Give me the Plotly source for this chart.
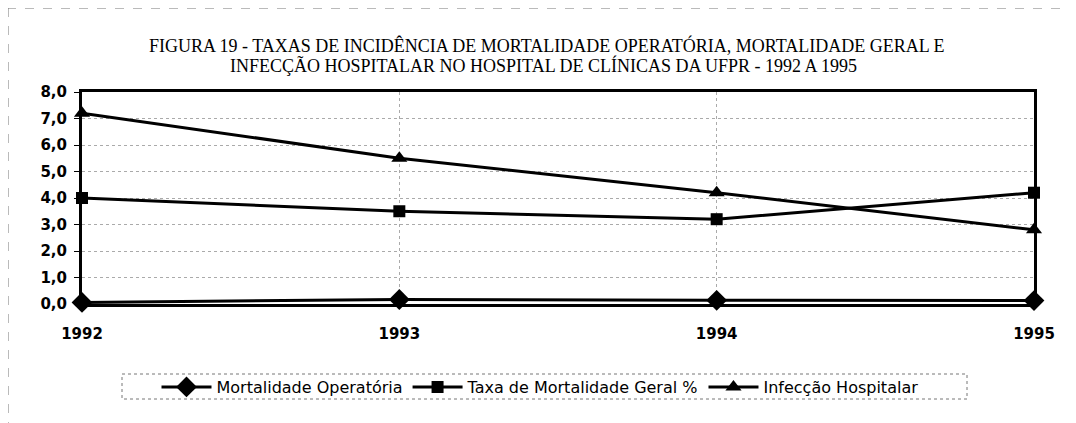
import plotly.graph_objects as go

years = [1992, 1993, 1994, 1995]
mort_operatoria = [0.06, 0.17, 0.14, 0.13]
mort_geral = [4.0, 3.5, 3.2, 4.2]
infeccao = [7.2, 5.5, 4.2, 2.8]
y_ticks = [0, 1, 2, 3, 4, 5, 6, 7, 8]
title_lines = [
    "FIGURA 19 - TAXAS DE INCIDÊNCIA DE MORTALIDADE OPERATÓRIA, MORTALIDADE GERAL E",
    "INFECÇÃO HOSPITALAR NO HOSPITAL DE CLÍNICAS DA UFPR - 1992 A 1995",
]

series = [
    ("Mortalidade Operatória", mort_operatoria, "diamond", 16),
    ("Taxa de Mortalidade Geral %", mort_geral, "square", 12),
    ("Infecção Hospitalar", infeccao, "triangle-up", 14),
]

fig = go.Figure()
for name, vals, sym, size in series:
    fig.add_trace(go.Scatter(
        x=years, y=vals, name=name, mode="lines+markers",
        line=dict(color="black", width=3),
        marker=dict(symbol=sym, size=size, color="black"),
        cliponaxis=False,
    ))

# page has an 8px body margin; figure coordinates = page coordinates - 8
OFF = 8
W, H = 1076 - OFF, 423 - OFF
L, R, T, B = 82 - OFF, 1076 - 1034, 92 - OFF, 423 - 304
pw, ph = W - L - R, H - T - B

def px_x(p):
    return (p - OFF - L) / pw

def px_y(p):
    return (H - B - (p - OFF)) / ph

annotations = [
    dict(text=title_lines[0], xref="paper", yref="paper", x=px_x(546), y=px_y(45),
         xanchor="center", yanchor="middle", showarrow=False,
         font=dict(family="Liberation Serif", size=18, color="black")),
    dict(text=title_lines[1], xref="paper", yref="paper", x=px_x(543), y=px_y(66),
         xanchor="center", yanchor="middle", showarrow=False,
         font=dict(family="Liberation Serif", size=18, color="black")),
]

fig.update_layout(
    width=W, height=H,
    margin=dict(l=L, r=R, t=T, b=B),
    paper_bgcolor="white", plot_bgcolor="white",
    separators=",.",
    showlegend=True,
    annotations=annotations,
    legend=dict(
        orientation="h", x=px_x(540), xanchor="center", y=px_y(387), yanchor="middle",
        font=dict(family="DejaVu Sans", size=16, color="black"),
        borderwidth=0, bgcolor="rgba(0,0,0,0)", itemwidth=50,
    ),
    xaxis=dict(
        range=[1992, 1995], tickvals=years, ticktext=[str(y) for y in years],
        showline=True, linecolor="black", linewidth=3, mirror=True,
        showgrid=True, gridcolor="#aaa", griddash="dot", gridwidth=1,
        zeroline=False, ticks="", ticklabelstandoff=14,
        tickfont=dict(family="DejaVu Sans", size=15, color="black", weight="bold"),
    ),
    yaxis=dict(
        range=[0, 8], tickvals=y_ticks, tickformat=".1f",
        showline=True, linecolor="black", linewidth=3, mirror=True,
        showgrid=True, gridcolor="#aaa", griddash="dot", gridwidth=1,
        zeroline=False, ticks="outside", ticklen=5, tickwidth=1, tickcolor="black",
        ticklabelstandoff=4,
        tickfont=dict(family="DejaVu Sans", size=15, color="black", weight="bold"),
    ),
    shapes=[
        dict(type="line", xref="paper", yref="paper",
             x0=px_x(7), x1=px_x(1076), y0=px_y(8), y1=px_y(8),
             line=dict(color="#777", width=1, dash="dash")),
        dict(type="line", xref="paper", yref="paper",
             x0=px_x(8), x1=px_x(8), y0=px_y(8), y1=px_y(423),
             line=dict(color="#777", width=1, dash="dash")),
        dict(type="rect", xref="paper", yref="paper",
             x0=px_x(122), x1=px_x(967), y0=px_y(374), y1=px_y(399),
             line=dict(color="#777", width=1, dash="dot")),
    ],
)

fig.write_html("out.html")
